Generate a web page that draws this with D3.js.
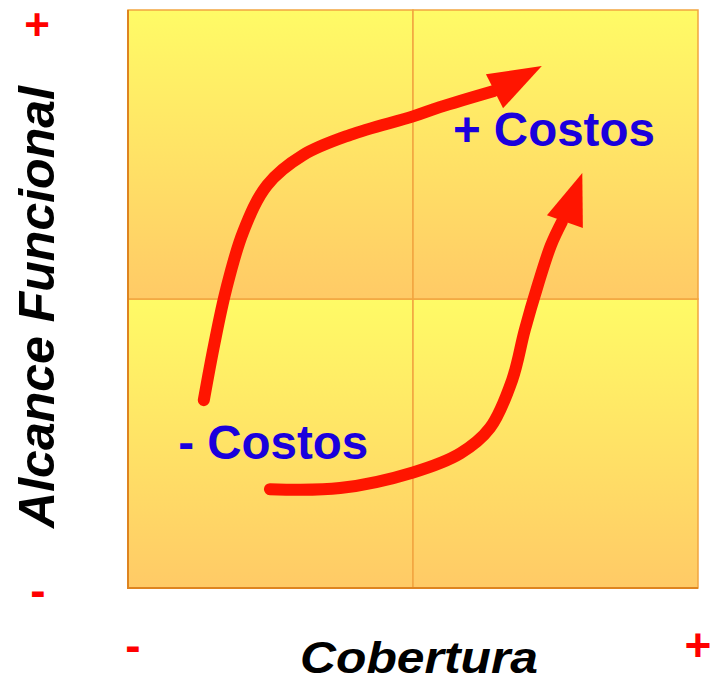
<!DOCTYPE html>
<html>
<head>
<meta charset="utf-8">
<script src="https://cdn.jsdelivr.net/npm/d3@7"></script>
<style>
  body { margin: 0; background: #fff; }
  text { font-family: "Liberation Sans", Arial, sans-serif; font-weight: bold; }
</style>
</head>
<body>
<svg id="chart" width="710" height="683"></svg>
<script>
// quadrant edges (data units, 0..100 on both axes)
var quadX = [[0, 50], [50, 100]];
var quadY = [[0, 50], [50, 100]];

// arrow paths
var arrowLow = [[13.3, 32.5], [15.1, 42.0], [17.2, 51.6], [20.2, 61.6], [24.4, 69.7],
  [30.7, 74.9], [39.0, 78.4], [50.0, 81.6], [54.7, 83.2], [64.2, 86.0]];
var headLow = [[72.6, 90.3], [62.8, 88.9], [65.8, 83.0]];

var arrowHigh = [[24.9, 17.1], [37.2, 17.3], [50.0, 20.0], [58.3, 23.3], [63.5, 27.7],
  [67.4, 36.0], [69.6, 44.6], [71.9, 52.4], [74.2, 59.3], [76.1, 63.3]];
var headHigh = [[79.7, 71.8], [73.5, 64.5], [79.8, 62.3]];

// labels inside the plot
var labels = [
  { text: "+ Costos", x: 57.0, y: 76.5 },
  { text: "- Costos", x: 8.8, y: 22.3 }
];

var svg = d3.select("#chart");
var x = d3.scaleLinear().domain([0, 100]).range([128, 698]);
var y = d3.scaleLinear().domain([0, 100]).range([588, 10]);

/* gradient for each quadrant */
var grad = svg.append("defs").append("linearGradient")
  .attr("id", "quad").attr("x1", 0).attr("y1", 0).attr("x2", 0).attr("y2", 1);
grad.append("stop").attr("offset", "0%").attr("stop-color", "#fffb66");
grad.append("stop").attr("offset", "100%").attr("stop-color", "#ffca66");

var cells = [];
quadX.forEach(function(cx) {
  quadY.forEach(function(cy) { cells.push({ x0: cx[0], x1: cx[1], y0: cy[0], y1: cy[1] }); });
});

svg.selectAll("rect.quad")
  .data(cells)
  .enter().append("rect")
  .attr("class", "quad")
  .attr("x", function(d) { return x(d.x0); })
  .attr("y", function(d) { return y(d.y1); })
  .attr("width", function(d) { return x(d.x1) - x(d.x0); })
  .attr("height", function(d) { return y(d.y0) - y(d.y1); })
  .style("fill", "url(#quad)")
  .style("stroke", "#f2a540")
  .style("stroke-width", 1.5);

// darker outer edge on left and bottom
svg.append("path")
  .attr("d", "M" + x(0) + "," + y(100) + "V" + y(0) + "H" + x(100))
  .style("fill", "none")
  .style("stroke", "#de8420")
  .style("stroke-width", 2);

/* arrows */
var line = d3.line()
  .x(function(d) { return x(d[0]); })
  .y(function(d) { return y(d[1]); })
  .curve(d3.curveCatmullRom.alpha(0.5));

[[arrowLow, headLow], [arrowHigh, headHigh]].forEach(function(a) {
  svg.append("path")
    .attr("d", line(a[0]))
    .style("fill", "none")
    .style("stroke", "#ff1500")
    .style("stroke-width", 12)
    .style("stroke-linecap", "round");
  svg.append("polygon")
    .attr("points", a[1].map(function(p) { return x(p[0]) + "," + y(p[1]); }).join(" "))
    .style("fill", "#ff1500");
});

svg.selectAll("text.label")
  .data(labels)
  .enter().append("text")
  .attr("class", "label")
  .attr("x", function(d) { return x(d.x); })
  .attr("y", function(d) { return y(d.y); })
  .style("font-size", "47.5px")
  .style("fill", "#1a00dc")
  .text(function(d) { return d.text; });

/* axis titles and +/- marks */
svg.append("text")
  .attr("transform", "translate(54,307) rotate(-90)")
  .attr("text-anchor", "middle")
  .style("font-size", "50px")
  .style("font-style", "italic")
  .style("fill", "#000")
  .text("Alcance Funcional");

svg.append("text")
  .attr("x", 300).attr("y", 673)
  .attr("textLength", 238)
  .attr("lengthAdjust", "spacingAndGlyphs")
  .style("font-size", "44px")
  .style("font-style", "italic")
  .style("fill", "#000")
  .text("Cobertura");

var marks = [
  { t: "+", x: 37, y: 40, s: 44 },
  { t: "-", x: 38, y: 606, s: 46 },
  { t: "-", x: 133, y: 661, s: 46 },
  { t: "+", x: 698, y: 661, s: 46 }
];
svg.selectAll("text.mark")
  .data(marks)
  .enter().append("text")
  .attr("class", "mark")
  .attr("x", function(d) { return d.x; })
  .attr("y", function(d) { return d.y; })
  .attr("text-anchor", "middle")
  .style("font-size", function(d) { return d.s + "px"; })
  .style("fill", "#ff0000")
  .text(function(d) { return d.t; });
</script>
</body>
</html>
